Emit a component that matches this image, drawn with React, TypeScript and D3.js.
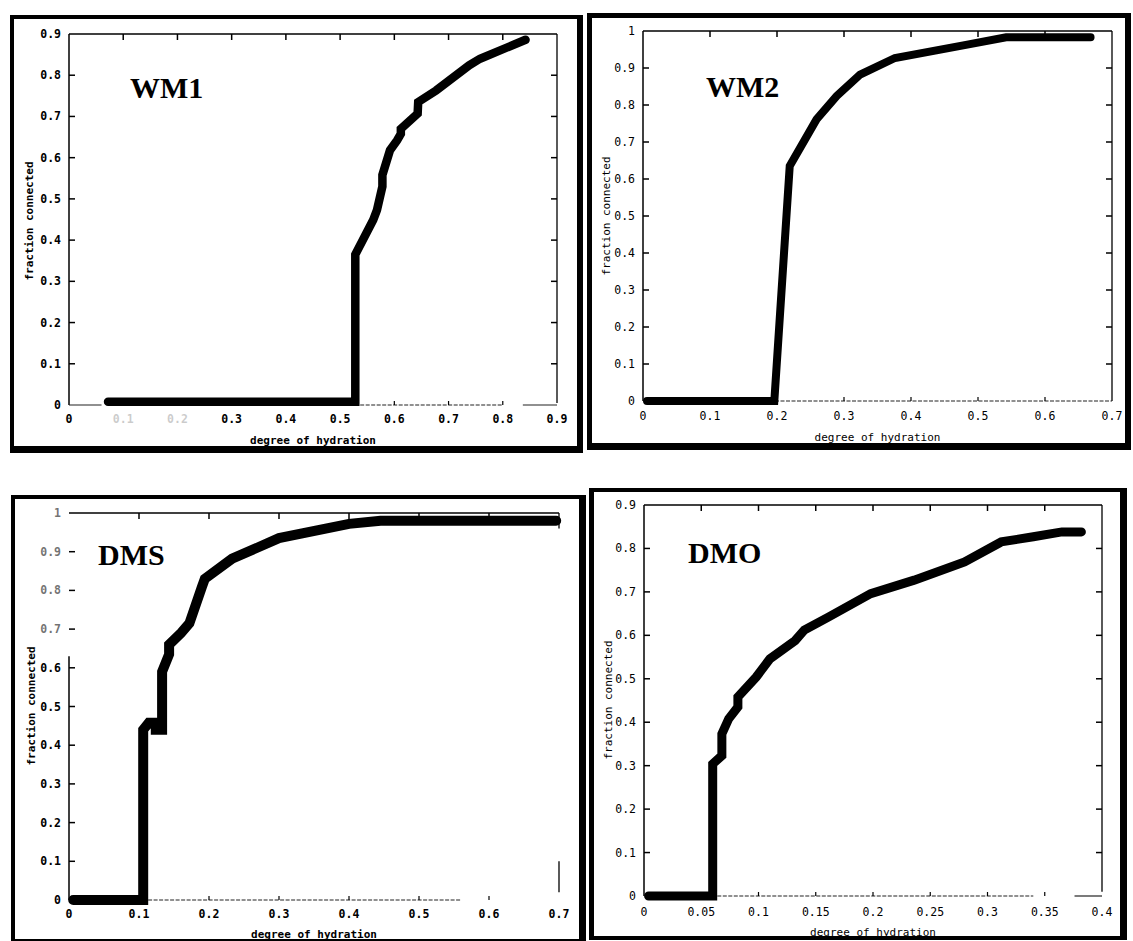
import React from "react";
import * as d3 from "d3";

// ---------- data ----------
const wm1X = [0.072, 0.528, 0.528, 0.561, 0.568, 0.578, 0.578, 0.592, 0.605, 0.612, 0.612, 0.643, 0.644, 0.677, 0.738, 0.758, 0.842];
const wm1Y = [0.008, 0.008, 0.365, 0.449, 0.473, 0.530, 0.558, 0.618, 0.642, 0.658, 0.670, 0.707, 0.735, 0.763, 0.824, 0.840, 0.886];

const wm2X = [0.006, 0.196, 0.219, 0.259, 0.289, 0.324, 0.376, 0.480, 0.542, 0.668];
const wm2Y = [0.0, 0.0, 0.635, 0.761, 0.824, 0.882, 0.927, 0.962, 0.983, 0.983];

const dmsX = [0.006, 0.106, 0.106, 0.114, 0.124, 0.124, 0.133, 0.133, 0.143, 0.143, 0.160, 0.172, 0.190, 0.194, 0.233, 0.300, 0.400, 0.445, 0.696];
const dmsY = [0.0, 0.0, 0.440, 0.458, 0.458, 0.440, 0.440, 0.590, 0.635, 0.660, 0.690, 0.715, 0.810, 0.830, 0.882, 0.935, 0.972, 0.980, 0.980];

const dmoX = [0.004, 0.060, 0.060, 0.068, 0.068, 0.074, 0.082, 0.082, 0.098, 0.110, 0.132, 0.140, 0.161, 0.198, 0.236, 0.280, 0.312, 0.340, 0.365, 0.382];
const dmoY = [0.0, 0.0, 0.304, 0.323, 0.373, 0.408, 0.435, 0.458, 0.504, 0.546, 0.588, 0.612, 0.642, 0.696, 0.727, 0.769, 0.815, 0.827, 0.838, 0.838];

const wm1XTicks = [0, 0.1, 0.2, 0.3, 0.4, 0.5, 0.6, 0.7, 0.8, 0.9];
const wm1XLabels = ["0", "0.1", "0.2", "0.3", "0.4", "0.5", "0.6", "0.7", "0.8", "0.9"];
const wm1YTicks = [0, 0.1, 0.2, 0.3, 0.4, 0.5, 0.6, 0.7, 0.8, 0.9];
const wm1YLabels = ["0", "0.1", "0.2", "0.3", "0.4", "0.5", "0.6", "0.7", "0.8", "0.9"];

const wm2XTicks = [0, 0.1, 0.2, 0.3, 0.4, 0.5, 0.6, 0.7];
const wm2XLabels = ["0", "0.1", "0.2", "0.3", "0.4", "0.5", "0.6", "0.7"];
const wm2YTicks = [0, 0.1, 0.2, 0.3, 0.4, 0.5, 0.6, 0.7, 0.8, 0.9, 1];
const wm2YLabels = ["0", "0.1", "0.2", "0.3", "0.4", "0.5", "0.6", "0.7", "0.8", "0.9", "1"];

const dmsXTicks = [0, 0.1, 0.2, 0.3, 0.4, 0.5, 0.6, 0.7];
const dmsXLabels = ["0", "0.1", "0.2", "0.3", "0.4", "0.5", "0.6", "0.7"];
const dmsYTicks = [0, 0.1, 0.2, 0.3, 0.4, 0.5, 0.6, 0.7, 0.8, 0.9, 1];
const dmsYLabels = ["0", "0.1", "0.2", "0.3", "0.4", "0.5", "0.6", "0.7", "0.8", "0.9", "1"];

const dmoXTicks = [0, 0.05, 0.1, 0.15, 0.2, 0.25, 0.3, 0.35, 0.4];
const dmoXLabels = ["0", "0.05", "0.1", "0.15", "0.2", "0.25", "0.3", "0.35", "0.4"];
const dmoYTicks = [0, 0.1, 0.2, 0.3, 0.4, 0.5, 0.6, 0.7, 0.8, 0.9];
const dmoYLabels = ["0", "0.1", "0.2", "0.3", "0.4", "0.5", "0.6", "0.7", "0.8", "0.9"];

const xTitle = "degree of hydration";
const yTitle = "fraction connected";

// ---------- layout ----------
type Seg = { from: number; to: number; dashed: boolean };
type Panel = {
  name: string;
  frame: { l: number; t: number; r: number; b: number; lw: number; tw: number; rw: number; bw: number };
  plot: { x0: number; x1: number; y0: number; y1: number };
  xDomain: number[];
  yDomain: number[];
  xTicks: number[];
  xLabels: string[];
  yTicks: number[];
  yLabels: string[];
  xs: number[];
  ys: number[];
  titlePos: number[];
  yTitlePos: number[];
  xTitleY: number;
  xLabelY: number;
  strokeW: number;
  bold: boolean;
  fadedX: string[];
  fadedY: string[];
  leftAxisTop: number;
  bottomSegs: Seg[];
  rightSegs: Seg[];
  rightTicks: boolean;
};

const panels: Panel[] = [
  {
    name: "WM1",
    frame: { l: 10, t: 15, r: 583, b: 453, lw: 4, tw: 4, rw: 6, bw: 7 },
    plot: { x0: 69, x1: 557, y0: 405, y1: 34 },
    xDomain: [0, 0.9], yDomain: [0, 0.9],
    xTicks: wm1XTicks, xLabels: wm1XLabels, yTicks: wm1YTicks, yLabels: wm1YLabels,
    xs: wm1X, ys: wm1Y,
    titlePos: [130, 98], yTitlePos: [29, 221], xTitleY: 440, xLabelY: 419,
    strokeW: 8.5, bold: true, fadedX: ["0.1", "0.2"], fadedY: [], leftAxisTop: 0.9,
    bottomSegs: [{ from: 0, to: 0.06, dashed: false }, { from: 0.537, to: 0.8, dashed: true }, { from: 0.837, to: 0.9, dashed: false }],
    rightSegs: [{ from: 0.005, to: 0.9, dashed: false }],
    rightTicks: true,
  },
  {
    name: "WM2",
    frame: { l: 587, t: 13, r: 1131, b: 450, lw: 5, tw: 5, rw: 6, bw: 7 },
    plot: { x0: 643, x1: 1112, y0: 401, y1: 31 },
    xDomain: [0, 0.7], yDomain: [0, 1],
    xTicks: wm2XTicks, xLabels: wm2XLabels, yTicks: wm2YTicks, yLabels: wm2YLabels,
    xs: wm2X, ys: wm2Y,
    titlePos: [706, 97], yTitlePos: [606, 216], xTitleY: 437, xLabelY: 416,
    strokeW: 8, bold: false, fadedX: [], fadedY: [], leftAxisTop: 1,
    bottomSegs: [{ from: 0, to: 0.7, dashed: true }],
    rightSegs: [{ from: 0, to: 1, dashed: false }],
    rightTicks: true,
  },
  {
    name: "DMS",
    frame: { l: 11, t: 495, r: 586, b: 941, lw: 4, tw: 4, rw: 7, bw: 2 },
    plot: { x0: 69, x1: 559, y0: 900, y1: 513 },
    xDomain: [0, 0.7], yDomain: [0, 1],
    xTicks: dmsXTicks, xLabels: dmsXLabels, yTicks: dmsYTicks, yLabels: dmsYLabels,
    xs: dmsX, ys: dmsY,
    titlePos: [98, 565], yTitlePos: [31, 706], xTitleY: 934, xLabelY: 914,
    strokeW: 10, bold: true, fadedX: [], fadedY: ["0.7", "0.8", "0.9", "1"], leftAxisTop: 0.63,
    bottomSegs: [{ from: 0.113, to: 0.56, dashed: true }],
    rightSegs: [{ from: 0.02, to: 0.1, dashed: false }, { from: 0.96, to: 1, dashed: false }],
    rightTicks: false,
  },
  {
    name: "DMO",
    frame: { l: 589, t: 488, r: 1127, b: 940, lw: 5, tw: 4, rw: 7, bw: 4 },
    plot: { x0: 644, x1: 1102, y0: 896, y1: 505 },
    xDomain: [0, 0.4], yDomain: [0, 0.9],
    xTicks: dmoXTicks, xLabels: dmoXLabels, yTicks: dmoYTicks, yLabels: dmoYLabels,
    xs: dmoX, ys: dmoY,
    titlePos: [688, 563], yTitlePos: [608, 700], xTitleY: 932, xLabelY: 912,
    strokeW: 9, bold: false, fadedX: [], fadedY: [], leftAxisTop: 0.9,
    bottomSegs: [{ from: 0.064, to: 0.34, dashed: true }, { from: 0.376, to: 0.4, dashed: false }],
    rightSegs: [{ from: 0.01, to: 0.9, dashed: false }],
    rightTicks: true,
  },
];

const MONO = "'DejaVu Sans Mono', 'Liberation Mono', monospace";

function PanelView({ p }: { p: Panel }) {
  const x = d3.scaleLinear().domain(p.xDomain).range([p.plot.x0, p.plot.x1]);
  const y = d3.scaleLinear().domain(p.yDomain).range([p.plot.y0, p.plot.y1]);
  const pts: [number, number][] = p.xs.map((v, i) => [v, p.ys[i]]);
  const line = d3.line<[number, number]>().x((d) => x(d[0])).y((d) => y(d[1]));
  const f = p.frame;
  const fw = p.bold ? "bold" : "normal";
  const xMin = p.xDomain[0], xMax = p.xDomain[1];
  const yMin = p.yDomain[0], yMax = p.yDomain[1];
  const tick = 6;
  return (
    <g>
      {/* outer frame */}
      <rect x={f.l} y={f.t} width={f.r - f.l} height={f.tw} fill="#000" />
      <rect x={f.l} y={f.t} width={f.lw} height={f.b - f.t} fill="#000" />
      <rect x={f.r - f.rw} y={f.t} width={f.rw} height={f.b - f.t} fill="#000" />
      <rect x={f.l} y={f.b - f.bw} width={f.r - f.l} height={f.bw} fill="#000" />

      {/* plot border */}
      <line x1={x(xMin)} x2={x(xMax)} y1={y(yMax)} y2={y(yMax)} stroke="#000" strokeWidth={1.3} />
      {p.rightSegs.map((s, i) => (
        <line key={"r" + i} x1={x(xMax)} x2={x(xMax)} y1={y(s.to)} y2={y(s.from)} stroke="#000" strokeWidth={1.3} />
      ))}
      <line x1={x(xMin)} x2={x(xMin)} y1={y(p.leftAxisTop)} y2={y(yMin)} stroke="#000" strokeWidth={1.5} />
      {p.bottomSegs.map((s, i) => (
        <line key={"b" + i} x1={x(s.from)} x2={x(s.to)} y1={y(yMin)} y2={y(yMin)} stroke="#222"
          strokeWidth={1.2} strokeDasharray={s.dashed ? "4 1.5" : undefined} />
      ))}

      {/* y ticks & labels */}
      {p.yTicks.map((t, i) => {
        const faded = p.fadedY.includes(p.yLabels[i]);
        return (
          <g key={"y" + i}>
            {t !== yMin && t !== yMax && (
              <>
                <line x1={x(xMin)} x2={x(xMin) + tick} y1={y(t)} y2={y(t)} stroke="#000" strokeWidth={1.5} />
                {p.rightTicks && (
                  <line x1={x(xMax)} x2={x(xMax) - tick} y1={y(t)} y2={y(t)} stroke="#000" strokeWidth={1.5} />
                )}
              </>
            )}
            <text x={x(xMin) - 8} y={y(t)} textAnchor="end" dominantBaseline="central"
              fontFamily={MONO} fontSize={11.5} fontWeight={fw} fill="#000" opacity={faded ? 0.55 : 1}>
              {p.yLabels[i]}
            </text>
          </g>
        );
      })}

      {/* x ticks & labels */}
      {p.xTicks.map((t, i) => {
        const faded = p.fadedX.includes(p.xLabels[i]);
        return (
          <g key={"x" + i}>
            {t !== xMin && t !== xMax && (
              <>
                <line x1={x(t)} x2={x(t)} y1={y(yMax)} y2={y(yMax) + tick} stroke="#000" strokeWidth={1.5} />
                <line x1={x(t)} x2={x(t)} y1={y(yMin)} y2={y(yMin) - 4} stroke="#000" strokeWidth={1.2} />
              </>
            )}
            <text x={x(t)} y={p.xLabelY} textAnchor="middle" dominantBaseline="central"
              fontFamily={MONO} fontSize={11.5} fontWeight={fw} fill="#000" opacity={faded ? 0.2 : 1}>
              {p.xLabels[i]}
            </text>
          </g>
        );
      })}

      {/* axis titles */}
      <text x={(p.plot.x0 + p.plot.x1) / 2} y={p.xTitleY} textAnchor="middle" dominantBaseline="central"
        fontFamily={MONO} fontSize={11} fontWeight={fw} fill="#000">{xTitle}</text>
      <text transform={`translate(${p.yTitlePos[0]},${p.yTitlePos[1]}) rotate(-90)`} textAnchor="middle"
        dominantBaseline="central" fontFamily={MONO} fontSize={11} fontWeight={fw} fill="#000">{yTitle}</text>

      {/* curve */}
      <path d={line(pts) || ""} fill="none" stroke="#000" strokeWidth={p.strokeW}
        strokeLinejoin="miter" strokeMiterlimit={2} strokeLinecap="round" />

      {/* panel label */}
      <text x={p.titlePos[0]} y={p.titlePos[1]} fontFamily="'Liberation Serif', 'Times New Roman', serif"
        fontWeight="bold" fontSize={30} fill="#000">{p.name}</text>
    </g>
  );
}

export default function App() {
  return (
    <svg width={1133} height={941} viewBox="0 0 1133 941"
      style={{ position: "absolute", left: 0, top: 0, background: "#fff", display: "block" }}>
      <rect x={0} y={0} width={1133} height={941} fill="#fff" />
      {panels.map((p) => (
        <PanelView key={p.name} p={p} />
      ))}
    </svg>
  );
}
